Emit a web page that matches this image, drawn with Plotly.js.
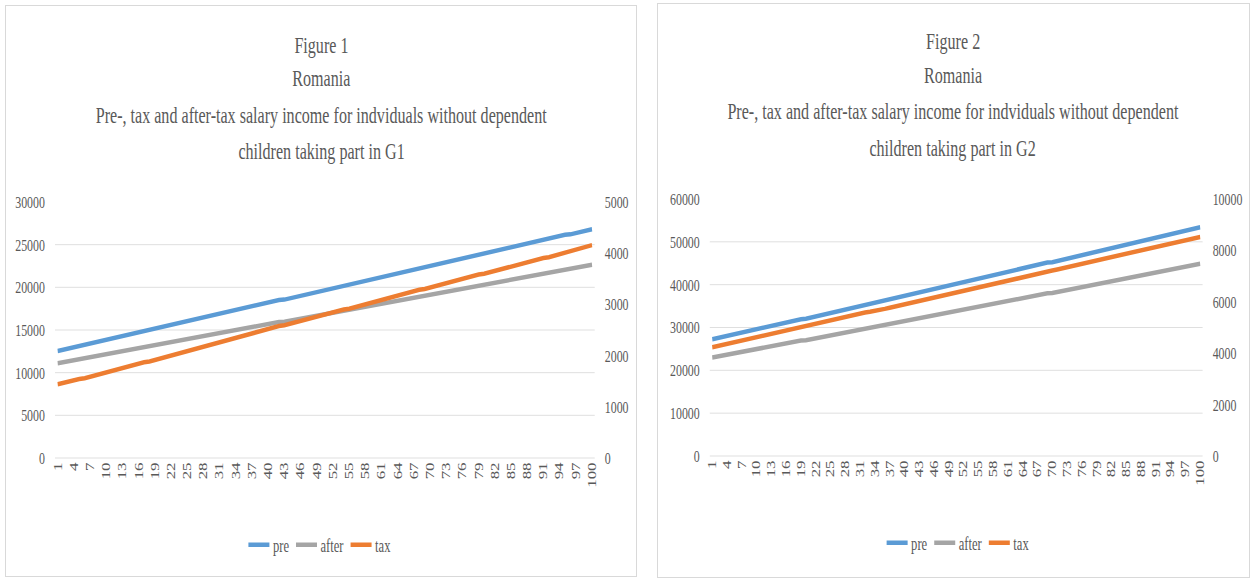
<!DOCTYPE html>
<html>
<head>
<meta charset="utf-8">
<script src="https://cdn.plot.ly/plotly-3.0.1.min.js"></script>
<style>
  html, body { margin: 0; padding: 0; background: #ffffff; }
  .panel {
    position: absolute;
    box-sizing: border-box;
    border: 1px solid #d9d9d9;
    background: #ffffff;
    overflow: hidden;
  }
  #fig1 { left: 5px; top: 5px; width: 632px; height: 572px; }
  #fig2 { left: 657px; top: 3px; width: 593px; height: 575px; }
  /* the charts are laid out wide and set in a narrow, condensed face */
  .squeeze {
    position: absolute;
    left: 0; top: 0;
    transform-origin: 0 0;
  }
</style>
</head>
<body>
<div id="fig1" class="panel"><div id="plot1" class="squeeze"></div></div>
<div id="fig2" class="panel"><div id="plot2" class="squeeze"></div></div>
<script>
// Individuals ranked 1..100
const people = [1,2,3,4,5,6,7,8,9,10,11,12,13,14,15,16,17,18,19,20,
  21,22,23,24,25,26,27,28,29,30,31,32,33,34,35,36,37,38,39,40,
  41,42,43,44,45,46,47,48,49,50,51,52,53,54,55,56,57,58,59,60,
  61,62,63,64,65,66,67,68,69,70,71,72,73,74,75,76,77,78,79,80,
  81,82,83,84,85,86,87,88,89,90,91,92,93,94,95,96,97,98,99,100];

// Category labels shown on the horizontal axis
const xTickLabels = [1,4,7,10,13,16,19,22,25,28,31,34,37,40,43,46,49,
  52,55,58,61,64,67,70,73,76,79,82,85,88,91,94,97,100];

// G1: pre-tax salary, after-tax salary (left axis) and tax (right axis)
const g1Pre = [12540,12688,12836,12984,13132,13280,13428,13576,13724,13872,
  14020,14168,14316,14464,14612,14760,14810,14958,15106,15254,
  15402,15550,15698,15846,15994,16142,16290,16438,16586,16734,
  16882,17030,17178,17326,17474,17622,17770,17918,18066,18214,
  18362,18510,18560,18708,18856,19004,19152,19300,19448,19596,
  19744,19892,20040,20188,20336,20484,20632,20780,20928,21076,
  21224,21372,21520,21668,21816,21964,22112,22260,22310,22458,
  22606,22754,22902,23050,23198,23346,23494,23642,23790,23938,
  24086,24234,24382,24530,24678,24826,24974,25122,25270,25418,
  25566,25714,25862,26010,26158,26208,26356,26504,26652,26800];
const g1After = [11100,11218,11337,11455,11588,11721,11840,11958,12077,12195,
  12314,12432,12551,12669,12788,12906,12941,13074,13193,13311,
  13430,13548,13667,13785,13904,14022,14141,14259,14378,14496,
  14615,14733,14852,14970,15089,15207,15326,15444,15563,15681,
  15800,15933,15968,16086,16205,16323,16442,16560,16679,16797,
  16916,17034,17153,17286,17419,17537,17656,17774,17893,18011,
  18130,18248,18367,18485,18604,18722,18841,18974,19009,19127,
  19246,19364,19483,19601,19720,19838,19957,20075,20208,20341,
  20460,20578,20697,20815,20934,21052,21171,21289,21408,21526,
  21659,21792,21911,22029,22148,22168,22287,22405,22524,22642];
const g1Tax = [1440,1470,1499,1529,1544,1559,1588,1618,1647,1677,
  1706,1736,1765,1795,1824,1854,1869,1884,1913,1943,
  1972,2002,2031,2061,2090,2120,2149,2179,2208,2238,
  2267,2297,2326,2356,2385,2415,2444,2474,2503,2533,
  2562,2577,2592,2622,2651,2681,2710,2740,2769,2799,
  2828,2858,2887,2902,2917,2947,2976,3006,3035,3065,
  3094,3124,3153,3183,3212,3242,3271,3286,3301,3331,
  3360,3390,3419,3449,3478,3508,3537,3567,3582,3597,
  3626,3656,3685,3715,3744,3774,3803,3833,3862,3892,
  3907,3922,3951,3981,4010,4040,4069,4099,4128,4158];

// G2: pre-tax salary, after-tax salary (left axis) and tax (right axis)
const g2Pre = [27240,27511,27782,28053,28324,28424,28695,28966,29237,29508,
  29779,30050,30321,30592,30863,31134,31405,31676,31947,32047,
  32318,32589,32860,33131,33402,33673,33944,34215,34486,34757,
  35028,35299,35570,35841,36112,36383,36654,36925,37196,37467,
  37738,38009,38280,38380,38651,38922,39193,39464,39735,40006,
  40277,40548,40819,41090,41361,41632,41903,42174,42445,42716,
  42987,43258,43529,43800,44071,44342,44613,44884,45155,45255,
  45526,45797,46068,46339,46610,46881,47152,47423,47694,47965,
  48236,48507,48778,49049,49320,49591,49862,50133,50404,50675,
  50946,51217,51488,51759,52030,52301,52572,52843,53114,53385];
const g2After = [23010,23236,23462,23688,23914,23969,24215,24461,24687,24913,
  25139,25365,25591,25817,26043,26269,26495,26721,26947,27002,
  27228,27454,27680,27906,28132,28358,28584,28810,29036,29262,
  29488,29714,29960,30206,30432,30658,30884,31110,31336,31562,
  31788,32014,32240,32295,32521,32747,32973,33199,33425,33651,
  33877,34103,34329,34555,34781,35007,35233,35459,35705,35951,
  36177,36403,36629,36855,37081,37307,37533,37759,37985,38040,
  38266,38492,38718,38944,39170,39396,39622,39848,40074,40300,
  40526,40752,40978,41204,41450,41696,41922,42148,42374,42600,
  42826,43052,43278,43504,43730,43956,44182,44408,44634,44860];
const g2Tax = [4230,4275,4320,4365,4410,4455,4480,4505,4550,4595,
  4640,4685,4730,4775,4820,4865,4910,4955,5000,5045,
  5090,5135,5180,5225,5270,5315,5360,5405,5450,5495,
  5540,5585,5610,5635,5680,5725,5770,5815,5860,5905,
  5950,5995,6040,6085,6130,6175,6220,6265,6310,6355,
  6400,6445,6490,6535,6580,6625,6670,6715,6740,6765,
  6810,6855,6900,6945,6990,7035,7080,7125,7170,7215,
  7260,7305,7350,7395,7440,7485,7530,7575,7620,7665,
  7710,7755,7800,7845,7870,7895,7940,7985,8030,8075,
  8120,8165,8210,8255,8300,8345,8390,8435,8480,8525];

// Axis ticks
const g1LeftTicks = [0, 5000, 10000, 15000, 20000, 25000, 30000];
const g1RightTicks = [0, 1000, 2000, 3000, 4000, 5000];
const g2LeftTicks = [0, 10000, 20000, 30000, 40000, 50000, 60000];
const g2RightTicks = [0, 2000, 4000, 6000, 8000, 10000];

// Heading lines
const g1Heading = ["Figure 1", "Romania",
  "Pre-, tax and after-tax salary income for indviduals without dependent",
  "children taking part in G1"];
const g2Heading = ["Figure 2", "Romania",
  "Pre-, tax and after-tax salary income for indviduals without dependent",
  "children taking part in G2"];

const seriesNames = ["pre", "after", "tax"];
const COLORS = { pre: "#5b9bd5", after: "#a5a5a5", tax: "#ed7d31" };
const SERIF = "Liberation Serif";
const GREY_TEXT = "#595959";
const GRID = "#d9d9d9";
const SQUEEZE = 0.7;   // horizontal condensing of the whole chart

function font(size) {
  return { family: SERIF, size: size, color: GREY_TEXT };
}

// Draw one panel. Sizes are given in on-screen pixels; the chart is laid out
// 1/SQUEEZE times wider and then condensed horizontally.
function drawPanel(divId, opts) {
  const lineW = 4.5;
  const traces = [
    { x: people, y: opts.pre, name: seriesNames[0], type: "scatter", mode: "lines",
      line: { color: COLORS.pre, width: lineW }, yaxis: "y" },
    { x: people, y: opts.after, name: seriesNames[1], type: "scatter", mode: "lines",
      line: { color: COLORS.after, width: lineW }, yaxis: "y" },
    { x: people, y: opts.tax, name: seriesNames[2], type: "scatter", mode: "lines",
      line: { color: COLORS.tax, width: lineW }, yaxis: "y2" }
  ];

  const annotations = opts.heading.map((txt, i) => ({
    text: txt,
    xref: "paper", yref: "paper",
    x: opts.headX, y: opts.headY[i],
    xanchor: "center", yanchor: "middle",
    showarrow: false,
    font: font(23)
  }));

  const layout = {
    width: opts.width / SQUEEZE,
    height: opts.height,
    margin: {
      l: opts.margin.l / SQUEEZE, r: opts.margin.r / SQUEEZE,
      t: opts.margin.t, b: opts.margin.b, pad: 0
    },
    font: font(16),
    paper_bgcolor: "rgba(0,0,0,0)",
    plot_bgcolor: "rgba(0,0,0,0)",
    showlegend: true,
    legend: {
      orientation: "h",
      x: opts.legendX, y: opts.legendY,
      xanchor: "center", yanchor: "middle",
      font: font(18),
      itemwidth: 30,
      tracegroupgap: 0
    },
    xaxis: {
      range: [0.5, 100.5],
      tickmode: "array", tickvals: xTickLabels,
      ticktext: xTickLabels.map(String),
      tickangle: -90,
      ticklabeloverflow: "allow",
      showgrid: false, zeroline: false, showline: false,
      ticks: "",
      color: GREY_TEXT,
      tickfont: font(17)
    },
    yaxis: {
      range: [opts.leftTicks[0], opts.leftTicks[opts.leftTicks.length - 1]],
      tickmode: "array", tickvals: opts.leftTicks,
      ticktext: opts.leftTicks.map(String),
      showgrid: true, gridcolor: GRID, gridwidth: 1,
      zeroline: true, zerolinecolor: GRID, zerolinewidth: 1,
      showline: false, ticks: "outside", ticklen: 10, tickcolor: "rgba(0,0,0,0)",
      color: GREY_TEXT,
      tickfont: font(17)
    },
    yaxis2: {
      overlaying: "y", side: "right",
      range: [opts.rightTicks[0], opts.rightTicks[opts.rightTicks.length - 1]],
      tickmode: "array", tickvals: opts.rightTicks,
      ticktext: opts.rightTicks.map(String),
      showgrid: false, zeroline: false, showline: false,
      ticks: "outside", ticklen: 10, tickcolor: "rgba(0,0,0,0)",
      color: GREY_TEXT,
      tickfont: font(17)
    },
    annotations: annotations
  };

  const el = document.getElementById(divId);
  el.style.transform = "scaleX(" + SQUEEZE + ")";
  return Plotly.newPlot(el, traces, layout, { staticPlot: true, displayModeBar: false });
}

drawPanel("plot1", {
  pre: g1Pre, after: g1After, tax: g1Tax,
  leftTicks: g1LeftTicks, rightTicks: g1RightTicks,
  heading: g1Heading,
  width: 630, height: 570,
  margin: { l: 49, r: 41, t: 196, b: 118 },
  headX: 0.494, headY: [1.613, 1.484, 1.336, 1.199],
  legendX: 0.49, legendY: -0.34
});

drawPanel("plot2", {
  pre: g2Pre, after: g2After, tax: g2Tax,
  leftTicks: g2LeftTicks, rightTicks: g2RightTicks,
  heading: g2Heading,
  width: 591, height: 573,
  margin: { l: 52, r: 46, t: 195, b: 121 },
  headX: 0.493, headY: [1.611, 1.482, 1.339, 1.198],
  legendX: 0.503, legendY: -0.339
});
</script>
</body>
</html>
